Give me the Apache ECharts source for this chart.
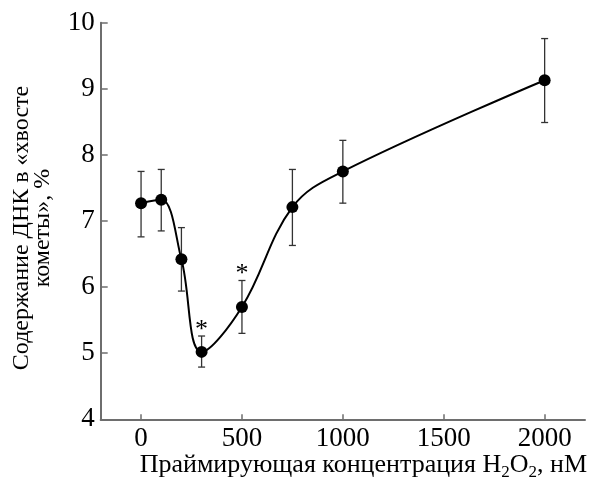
<!DOCTYPE html>
<html>
<head>
<meta charset="utf-8">
<script src="https://cdn.jsdelivr.net/npm/echarts@6/dist/echarts.min.js"></script>
<style>html,body{margin:0;padding:0;background:#fff}#c{width:590px;height:479px}</style>
</head>
<body>
<div id="c"></div>
<script>
const concentrations = [0, 100, 200, 300, 500, 750, 1000, 2000];
const meanValues = [7.27, 7.32, 6.42, 5.02, 5.70, 7.21, 7.75, 9.13];
const errLow = [6.76, 6.85, 5.94, 4.79, 5.30, 6.63, 7.27, 8.49];
const errHigh = [7.75, 7.78, 6.90, 5.26, 6.10, 7.78, 8.22, 9.76];
const significant = [0, 0, 0, 1, 1, 0, 0, 0];
const xTicks = [0, 500, 1000, 1500, 2000];

const chart = echarts.init(document.getElementById('c'), null, {renderer: 'canvas'});
const font = 'Liberation Serif';
const axisColor = '#6e6e6e';

const lineData = concentrations.map((x, i) => [x, meanValues[i]]);
const errData = concentrations.map((x, i) => [x, errLow[i], errHigh[i], significant[i]]);

chart.setOption({
  animation: false,
  backgroundColor: '#fff',
  grid: {left: 100.7, right: 5, top: 22.7, bottom: 59.7, containLabel: false, outerBoundsMode: 'none'},
  xAxis: {
    type: 'value', min: -200, max: 2200,
    axisLine: {show: true, onZero: false, lineStyle: {color: axisColor, width: 2}},
    axisTick: {show: true, inside: true, length: 5, customValues: xTicks, lineStyle: {color: axisColor, width: 1.5}},
    axisLabel: {customValues: xTicks, color: '#000', fontFamily: font, fontSize: 27, margin: 6,
      formatter: function (v) { return String(v); }},
    splitLine: {show: false},
    name: '{a|Праймирующая концентрация H}{s|2}{a|O}{s|2}{a|, нМ}',
    nameLocation: 'middle',
    nameMoveOverlap: false,
    nameGap: 30,
    nameTextStyle: {
      color: '#000', fontFamily: font, fontSize: 26, padding: [0, 0, 0, 41],
      rich: {
        a: {fontFamily: font, fontSize: 26, color: '#000', lineHeight: 32},
        s: {fontFamily: font, fontSize: 17, color: '#000', lineHeight: 17, verticalAlign: 'bottom'}
      }
    }
  },
  yAxis: {
    type: 'value', min: 4, max: 10, interval: 1,
    axisLine: {show: true, onZero: false, lineStyle: {color: axisColor, width: 2}},
    axisTick: {show: true, inside: true, length: 7, lineStyle: {color: axisColor, width: 1.5}},
    axisLabel: {color: '#000', fontFamily: font, fontSize: 27, margin: 6,
      formatter: function (v) { return String(v); }},
    splitLine: {show: false},
    name: 'Содержание ДНК в «хвосте\nкометы», %',
    nameLocation: 'middle',
    nameMoveOverlap: false,
    nameRotate: 90,
    nameGap: 47,
    nameTextStyle: {color: '#000', fontFamily: font, fontSize: 24, lineHeight: 21, align: 'center', padding: [0, 14, 0, 0]}
  },
  series: [
    {
      type: 'line', data: lineData, smooth: 0.38, symbol: 'none',
      lineStyle: {color: '#000', width: 2}, z: 2
    },
    {
      type: 'custom', data: errData, z: 3,
      renderItem: function (params, api) {
        const x = api.value(0);
        const lo = api.coord([x, api.value(1)]);
        const hi = api.coord([x, api.value(2)]);
        const cw = 3.5;
        const st = {stroke: '#333', lineWidth: 1.3};
        const children = [
          {type: 'line', shape: {x1: lo[0], y1: lo[1], x2: hi[0], y2: hi[1]}, style: st},
          {type: 'line', shape: {x1: lo[0] - cw, y1: lo[1], x2: lo[0] + cw, y2: lo[1]}, style: st},
          {type: 'line', shape: {x1: hi[0] - cw, y1: hi[1], x2: hi[0] + cw, y2: hi[1]}, style: st}
        ];
        if (api.value(3) === 1) {
          children.push({type: 'text', style: {text: '*', x: hi[0], y: hi[1] - 6, align: 'center', verticalAlign: 'middle', fontFamily: font, fontSize: 26, fill: '#000'}});
        }
        return {type: 'group', children: children};
      }
    },
    {
      type: 'scatter', data: lineData, symbol: 'circle', symbolSize: 12,
      itemStyle: {color: '#000', opacity: 1}, z: 4
    }
  ]
});
</script>
</body>
</html>
